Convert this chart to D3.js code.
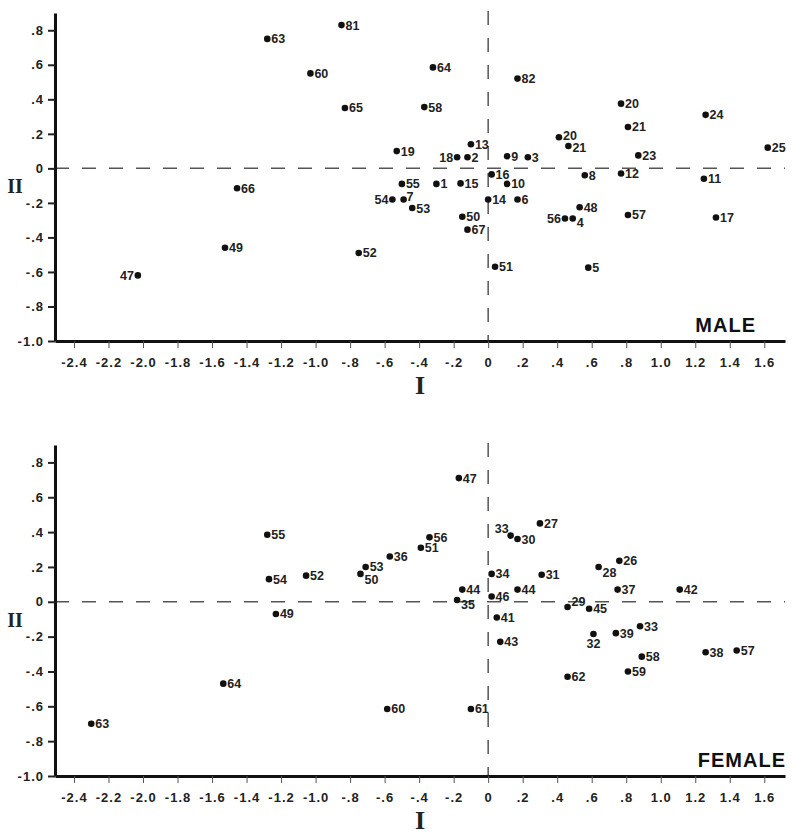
<!DOCTYPE html>
<meta charset="utf-8">
<style>
    body { margin: 0; background: #fff; }
    .tick text { font-family: "Liberation Sans", Arial, sans-serif; font-weight: bold; font-size: 13px; fill: #222; letter-spacing: 1px; }
    .yaxis .domain, .xaxis .domain { stroke: #111; stroke-width: 3px; }
    .yaxis .tick line { stroke: #222; stroke-width: 2px; }
    .xaxis .tick line { stroke: #555; stroke-width: 1px; }
    .zero { stroke: #555; stroke-width: 1.5px; stroke-dasharray: 14,13; fill: none; }
    .pt text { font-family: "Liberation Sans", Arial, sans-serif; font-weight: bold; font-size: 12.5px; fill: #222; }
    .roman { font-family: "Liberation Serif", "Times New Roman", serif; font-weight: bold; fill: #222; }
    .sex { font-family: "Liberation Sans", Arial, sans-serif; font-weight: bold; font-size: 20px; fill: #111; letter-spacing: 1px; }
</style>
<svg width="793" height="834"></svg>
<script src="https://cdnjs.cloudflare.com/ajax/libs/d3/7.8.5/d3.min.js"></script>
<script>

    // male panel
    var maleIds = ["63","81","60","64","82","65","58","19","13","18","2","9","3","16","10","55","1","15","54","7","53","14","6","50","67","52","51","66","49","47","20","21","20","21","24","23","25","8","12","11","48","56","4","57","17","5"];
    var maleI   = [-1.28,-0.85,-1.03,-0.32,0.17,-0.83,-0.37,-0.53,-0.10,-0.18,-0.12,0.11,0.23,0.02,0.11,-0.50,-0.30,-0.16,-0.555,-0.49,-0.44,0.0,0.17,-0.15,-0.12,-0.75,0.04,-1.455,-1.525,-2.03,0.41,0.465,0.77,0.81,1.26,0.87,1.62,0.56,0.77,1.25,0.53,0.445,0.49,0.81,1.32,0.58];
    var maleII  = [0.75,0.83,0.55,0.585,0.52,0.35,0.355,0.10,0.14,0.064,0.064,0.07,0.064,-0.035,-0.09,-0.09,-0.09,-0.087,-0.18,-0.18,-0.23,-0.18,-0.18,-0.28,-0.355,-0.49,-0.57,-0.115,-0.46,-0.62,0.18,0.13,0.375,0.24,0.31,0.075,0.12,-0.04,-0.03,-0.06,-0.225,-0.29,-0.29,-0.27,-0.285,-0.575];

    // female panel
    var femaleIds = ["55","54","52","49","53","50","36","51","56","47","33","30","27","34","44","44","35","46","41","43","31","28","26","37","42","29","45","32","39","33","58","59","62","38","57","64","63","60","61"];
    var femaleI   = [-1.28,-1.27,-1.055,-1.23,-0.71,-0.74,-0.57,-0.39,-0.34,-0.17,0.13,0.17,0.30,0.02,-0.15,0.17,-0.18,0.02,0.05,0.07,0.31,0.64,0.76,0.75,1.11,0.46,0.585,0.61,0.74,0.88,0.89,0.81,0.46,1.26,1.44,-1.535,-2.30,-0.585,-0.10];
    var femaleII  = [0.385,0.13,0.15,-0.07,0.20,0.16,0.26,0.31,0.37,0.71,0.38,0.36,0.45,0.16,0.07,0.07,0.01,0.03,-0.09,-0.23,0.155,0.20,0.235,0.07,0.07,-0.03,-0.04,-0.185,-0.18,-0.14,-0.315,-0.40,-0.43,-0.29,-0.28,-0.47,-0.70,-0.615,-0.615];

    var xTicks = [-2.4,-2.2,-2.0,-1.8,-1.6,-1.4,-1.2,-1.0,-0.8,-0.6,-0.4,-0.2,0,0.2,0.4,0.6,0.8,1.0,1.2,1.4,1.6];
    var yTicks = [0.8,0.6,0.4,0.2,0,-0.2,-0.4,-0.6,-0.8,-1.0];

    // label offsets that differ from "just right of the dot", by index: [dx, dy, anchor]
    var malePlace = {9: [-4, 0, "end"], 18: [-4, 0, "end"], 29: [-4, 0, "end"], 41: [-4, 0, "end"],
                     42: [4, 4, "start"], 19: [3, -3, "start"], 30: [4, -2, "start"], 31: [4, 2, "start"]};
    var femalePlace = {10: [-2, -7, "end"], 5: [4, 6, "start"], 21: [4, 6, "start"], 25: [4, -6, "start"],
                       27: [0, 9, "middle"], 16: [4, 4, "start"]};

    var svg = d3.select("svg");

    function fmt(v) {
        if (Math.abs(v) < 1e-9) return "0";
        var s = v.toFixed(1);
        if (Math.abs(v) < 1) s = s.replace("0.", ".");
        return s;
    }

    function panel(ids, xs, ys, place, top, bottom, title, titleX) {
        var x = d3.scaleLinear().domain([-2.51, 1.72]).range([55, 785]);
        var y = d3.scaleLinear().domain([-1, 0.9]).range([bottom, top]);
        var g = svg.append("g");

        g.append("line").attr("class", "zero")
                .attr("x1", 55).attr("x2", 785)
                .attr("y1", y(0)).attr("y2", y(0));
        g.append("line").attr("class", "zero")
                .attr("x1", x(0)).attr("x2", x(0))
                .attr("y1", top - 2).attr("y2", bottom);

        g.append("g").attr("class", "yaxis")
                .attr("transform", "translate(55,0)")
                .call(d3.axisLeft(y).tickValues(yTicks).tickFormat(fmt).tickSize(7).tickSizeOuter(0).tickPadding(4));

        g.append("g").attr("class", "xaxis")
                .attr("transform", "translate(0," + bottom + ")")
                .call(d3.axisBottom(x).tickValues(xTicks).tickFormat(fmt).tickSize(7).tickSizeOuter(0).tickPadding(10));

        var data = ids.map(function(id, i) {
            return {id: id, I: xs[i], II: ys[i], p: place[i] || [4, 0, "start"]};
        });

        var pt = g.append("g").selectAll("g")
                .data(data)
                .enter().append("g")
                .attr("class", "pt")
                .attr("transform", function(d) { return "translate(" + x(d.I) + "," + y(d.II) + ")"; });

        pt.append("circle").attr("r", 3.3).attr("fill", "#111");

        pt.append("text")
                .text(function(d) { return d.id; })
                .attr("dy", "0.36em")
                .attr("x", function(d) { return d.p[0]; })
                .attr("y", function(d) { return d.p[1]; })
                .attr("text-anchor", function(d) { return d.p[2]; });

        g.append("text").attr("class", "roman")
                .attr("x", 15).attr("y", y(0) + 25)
                .attr("text-anchor", "middle")
                .style("font-size", "20px")
                .text("II");

        g.append("text").attr("class", "roman")
                .attr("x", 420).attr("y", bottom + 53)
                .attr("text-anchor", "middle")
                .style("font-size", "26px")
                .text("I");

        g.append("text").attr("class", "sex")
                .attr("x", titleX).attr("y", bottom - 9)
                .attr("text-anchor", "end")
                .text(title);
    }

    panel(maleIds, maleI, maleII, malePlace, 13, 341, "MALE", 756);
    panel(femaleIds, femaleI, femaleII, femalePlace, 445, 776, "FEMALE", 786);

</script>
